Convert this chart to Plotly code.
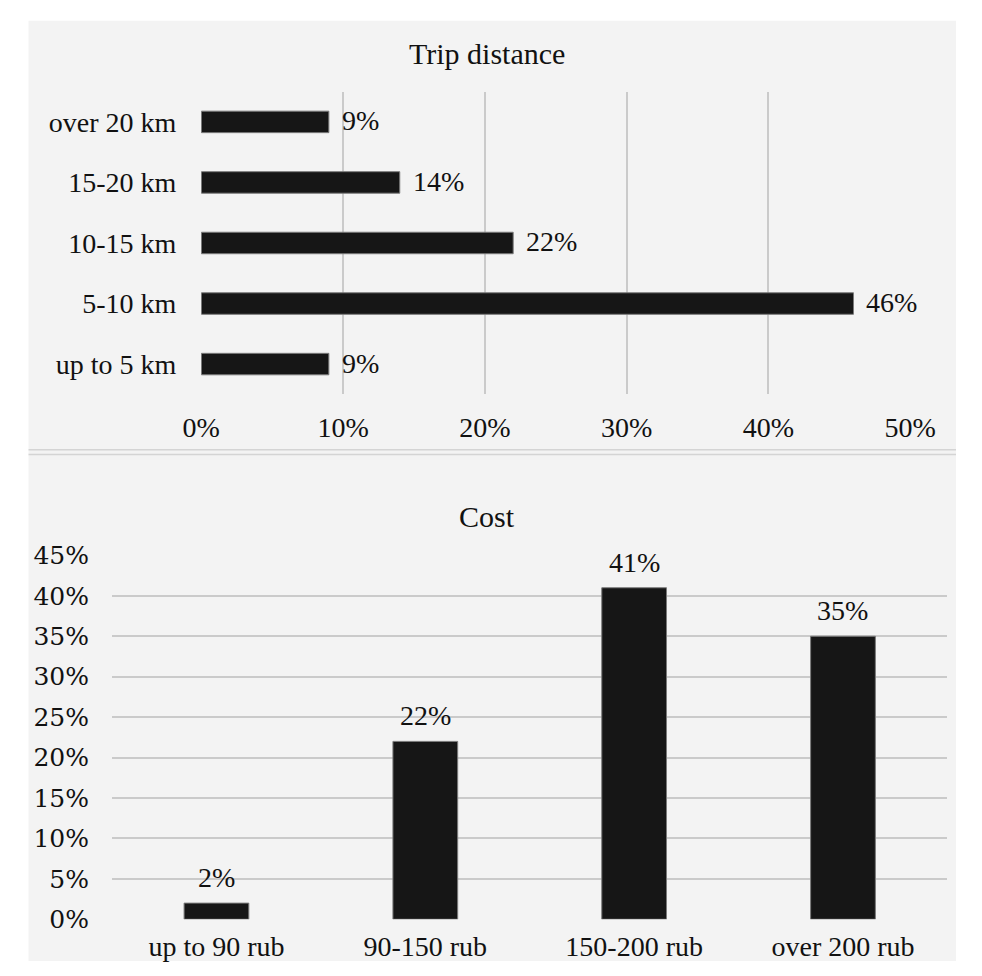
import plotly.graph_objects as go

# Trip distance (horizontal bars, bottom-to-top order)
dist_labels = ["up to 5 km", "5-10 km", "10-15 km", "15-20 km", "over 20 km"]
dist_values = [9, 46, 22, 14, 9]
dist_ticks = [0, 10, 20, 30, 40, 50]

# Cost (vertical bars)
cost_labels = ["up to 90 rub", "90-150 rub", "150-200 rub", "over 200 rub"]
cost_values = [2, 22, 41, 35]
cost_ticks = [0, 5, 10, 15, 20, 25, 30, 35, 40, 45]

W, H = 982, 976
BAR = "#161616"
EDGE = "#7a7a7a"
GRID = "#cacaca"
BG = "#f3f3f3"
SERIF = "Liberation Serif"
TXT = "#111"
FS = 28


def px(x):
    return x / W


def py(y):
    return 1 - y / H


fig = go.Figure()

fig.add_trace(go.Bar(
    x=dist_values, y=dist_labels, orientation="h",
    marker=dict(color=BAR, line=dict(color=EDGE, width=1)), width=0.355,
    xaxis="x", yaxis="y", showlegend=False, hoverinfo="x+y",
))

fig.add_trace(go.Bar(
    x=cost_labels, y=cost_values,
    marker=dict(color=BAR, line=dict(color=EDGE, width=1)), width=0.31,
    xaxis="x2", yaxis="y2", showlegend=False, hoverinfo="x+y",
))

annotations = [
    dict(text="Trip distance", x=px(490), y=py(41), xref="paper", yref="paper",
         showarrow=False, xanchor="center", yanchor="middle",
         font=dict(family=SERIF, size=30, color=TXT)),
    dict(text="Cost", x=px(490), y=py(518), xref="paper", yref="paper",
         showarrow=False, xanchor="center", yanchor="middle",
         font=dict(family=SERIF, size=30, color=TXT)),
]

# value labels to the right of the horizontal bars
for lab, v in zip(dist_labels, dist_values):
    annotations.append(dict(
        text=f"{v}%", x=v, y=lab, xref="x", yref="y",
        showarrow=False, xanchor="left", yanchor="middle", xshift=11, yshift=1,
        font=dict(family=SERIF, size=FS, color=TXT),
    ))

# value labels above the vertical bars
for lab, v in zip(cost_labels, cost_values):
    annotations.append(dict(
        text=f"{v}%", x=lab, y=v, xref="x2", yref="y2",
        showarrow=False, xanchor="center", yanchor="bottom", yshift=8,
        font=dict(family=SERIF, size=FS, color=TXT),
    ))

fig.update_layout(
    width=W, height=H,
    margin=dict(l=0, r=0, t=0, b=0),
    paper_bgcolor="white",
    plot_bgcolor="rgba(0,0,0,0)",
    font=dict(family=SERIF, color=TXT),
    xaxis=dict(
        domain=[px(191), px(934)], range=[0, 50], anchor="y",
        tickvals=dist_ticks, ticktext=[f"{t}%" for t in dist_ticks],
        showgrid=True, gridcolor=GRID, gridwidth=1.5, zeroline=False,
        showline=False, ticks="", ticklabelstandoff=14,
        tickfont=dict(family=SERIF, size=FS, color=TXT),
    ),
    yaxis=dict(
        domain=[py(392), py(80)], range=[-0.5, 4.5], anchor="x",
        showgrid=False, zeroline=False, showline=False, ticks="",
        ticklabelstandoff=24,
        tickfont=dict(family=SERIF, size=FS, color=TXT),
    ),
    xaxis2=dict(
        domain=[px(97.5), px(973)], range=[-0.5, 3.5], anchor="y2",
        showgrid=False, zeroline=False, showline=False, ticks="",
        ticklabelstandoff=8,
        tickfont=dict(family=SERIF, size=FS, color=TXT),
    ),
    yaxis2=dict(
        domain=[py(933), py(558)], range=[0, 45], anchor="x2",
        tickvals=cost_ticks, ticktext=[f"{t}%" for t in cost_ticks],
        showgrid=True, gridcolor=GRID, gridwidth=1.5, zeroline=False,
        showline=False, ticks="", ticklabelstandoff=22,
        tickfont=dict(family="DejaVu Serif", size=25, color=TXT),
    ),
    shapes=[
        # panel background
        dict(type="rect", xref="paper", yref="paper", layer="below",
             x0=px(10), x1=1, y0=0, y1=py(7), fillcolor=BG, line_width=0),
        # divider between the two panels
        dict(type="line", xref="paper", yref="paper",
             x0=px(10), x1=1, y0=py(449), y1=py(449),
             line=dict(color="#d4d4d4", width=1.5)),
        dict(type="line", xref="paper", yref="paper",
             x0=px(10), x1=1, y0=py(454), y1=py(454),
             line=dict(color="#d4d4d4", width=1.5)),
    ],
    annotations=annotations,
)

fig.write_html("out.html")
